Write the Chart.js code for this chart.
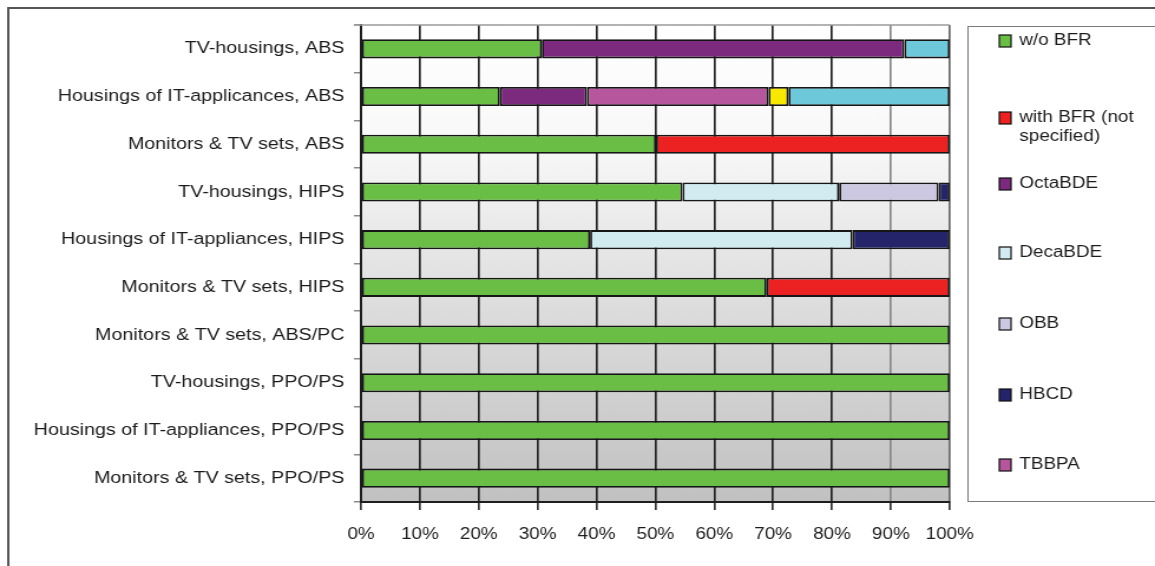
<!DOCTYPE html>
<html>
<head>
<meta charset="utf-8">
<script src="https://cdn.jsdelivr.net/npm/chart.js@4/dist/chart.umd.min.js"></script>
<style>
  html, body { margin: 0; padding: 0; background: #fff; overflow: hidden; }
  canvas { display: block; }
</style>
</head>
<body>
<!-- drawn at 979px wide and displayed at 1155px: the whole figure is horizontally widened -->
<canvas id="c" width="979" height="566" style="width:1155px;height:566px"></canvas>
<script>
// Share of each flame-retardant finding per plastic / product group (% of samples)
const categories = [
  'TV-housings, ABS',
  'Housings of IT-applicances, ABS',
  'Monitors & TV sets, ABS',
  'TV-housings, HIPS',
  'Housings of IT-appliances, HIPS',
  'Monitors & TV sets, HIPS',
  'Monitors & TV sets, ABS/PC',
  'TV-housings, PPO/PS',
  'Housings of IT-appliances, PPO/PS',
  'Monitors & TV sets, PPO/PS'
];
const woBFR    = [30.7, 23.6, 50.1, 54.6, 38.9, 68.9, 100, 100, 100, 100];
const withBFR  = [null, null, 49.9, null, null, 31.1, null, null, null, null];
const octaBDE  = [61.6, 14.8, null, null, null, null, null, null, null, null];
const decaBDE  = [null, null, null, 26.6, 44.6, null, null, null, null, null];
const obb      = [null, null, null, 16.9, null, null, null, null, null, null];
const hbcd     = [null, null, null, 1.9, 16.5, null, null, null, null, null];
const tbbpa    = [null, 30.8, null, null, null, null, null, null, null, null];
const series8  = [null, 3.4, null, null, null, null, null, null, null, null];
const series9  = [7.7, 27.4, null, null, null, null, null, null, null, null];
const xTicks   = [0, 10, 20, 30, 40, 50, 60, 70, 80, 90, 100];

const FONT = 'Liberation Sans, Arial, sans-serif';
const TEXT = '#1c1c1c';

function ds(label, data, color, inLegend) {
  return {
    label, data,
    backgroundColor: color,
    borderColor: '#161616',
    borderWidth: 1.8,
    borderSkipped: false,
    inLegend
  };
}

const datasets = [
  ds('w/o BFR', woBFR, '#6abd45', true),
  ds('with BFR (not specified)', withBFR, '#ec2222', true),
  ds('OctaBDE', octaBDE, '#7c2a7d', true),
  ds('DecaBDE', decaBDE, '#d1ebf0', true),
  ds('OBB', obb, '#cdc8e2', true),
  ds('HBCD', hbcd, '#24246b', true),
  ds('TBBPA', tbbpa, '#b6569d', true),
  ds('Series 8', series8, '#f6e800', false),
  ds('Series 9', series9, '#6dc8d9', false)
];

// plot background: white at the top fading to grey at the bottom
const plotBackground = {
  id: 'plotBackground',
  beforeDraw(chart) {
    const { ctx, chartArea: a } = chart;
    const g = ctx.createLinearGradient(0, a.top, 0, a.bottom);
    g.addColorStop(0, '#ffffff');
    g.addColorStop(0.25, '#f8f8f8');
    g.addColorStop(0.6, '#dcdcdc');
    g.addColorStop(1, '#c1c1c1');
    ctx.save();
    ctx.fillStyle = g;
    ctx.fillRect(a.left, a.top, a.right - a.left, a.bottom - a.top);
    ctx.restore();
  },
  afterDraw(chart) {
    const { ctx, chartArea: a, width, height } = chart;
    ctx.save();
    // top edge of the plot
    ctx.strokeStyle = '#9a9a9a';
    ctx.lineWidth = 1.5;
    ctx.beginPath();
    ctx.moveTo(a.left - 6, a.top);
    ctx.lineTo(a.right, a.top);
    ctx.stroke();
    // outer frame (top and left)
    ctx.strokeStyle = '#555';
    ctx.lineWidth = 2;
    ctx.beginPath();
    ctx.moveTo(width, 8);
    ctx.lineTo(7, 8);
    ctx.lineTo(7, height);
    ctx.stroke();
    ctx.restore();
  }
};

// boxed legend on the right
const boxLegend = {
  id: 'boxLegend',
  afterDraw(chart) {
    const { ctx } = chart;
    const boxLeft = 820, boxTop = 26, boxBottom = 501;
    const rowY = [41, 118, 184, 253, 324, 395, 465];
    const squareX = 847, textX = 864, maxW = 110, lineGap = 19;
    ctx.save();
    ctx.strokeStyle = '#7a7a7a';
    ctx.lineWidth = 1;
    ctx.strokeRect(boxLeft + 0.5, boxTop + 0.5, 400, boxBottom - boxTop);
    ctx.font = '16px ' + FONT;
    ctx.textBaseline = 'middle';
    const items = chart.data.datasets.filter(d => d.inLegend);
    items.forEach((d, i) => {
      const y = rowY[i];
      ctx.fillStyle = d.backgroundColor;
      ctx.fillRect(squareX, y - 6, 10, 12);
      ctx.strokeStyle = '#111';
      ctx.lineWidth = 1.2;
      ctx.strokeRect(squareX, y - 6, 10, 12);
      // word wrap inside the box
      const words = d.label.split(' ');
      const lines = [];
      let cur = '';
      words.forEach(w => {
        const t = cur ? cur + ' ' + w : w;
        if (ctx.measureText(t).width > maxW && cur) { lines.push(cur); cur = w; }
        else cur = t;
      });
      lines.push(cur);
      ctx.fillStyle = TEXT;
      lines.forEach((l, k) => ctx.fillText(l, textX, y + k * lineGap));
    });
    ctx.restore();
  }
};

new Chart(document.getElementById('c'), {
  type: 'bar',
  data: { labels: categories, datasets },
  plugins: [plotBackground, boxLegend],
  options: {
    responsive: false,
    animation: false,
    devicePixelRatio: 1,
    indexAxis: 'y',
    layout: { padding: { left: 0, right: 174, top: 25, bottom: 0 } },
    datasets: { bar: { categoryPercentage: 1, barPercentage: 0.40 } },
    plugins: { legend: { display: false }, tooltip: { enabled: false } },
    scales: {
      x: {
        stacked: true,
        min: 0,
        max: 100,
        afterBuildTicks: s => { s.ticks = xTicks.map(v => ({ value: v })); },
        ticks: {
          callback: v => v + '%',
          font: { family: FONT, size: 16 },
          color: TEXT,
          padding: 15,
          maxRotation: 0
        },
        grid: {
          color: c => (c.tick && c.tick.value === 90) ? '#8a8a8a' : (c.tick && c.tick.value === 100) ? '#666' : '#242424',
          lineWidth: 1.7,
          tickLength: 8,
          tickColor: '#333'
        },
        border: { color: '#1e1e1e', width: 2 },
        afterFit: s => { s.height = 64; }
      },
      y: {
        stacked: true,
        ticks: {
          font: { family: FONT, size: 16.7 },
          color: TEXT,
          padding: 8
        },
        grid: {
          offset: true,
          drawOnChartArea: false,
          tickLength: 6,
          color: '#8a8a8a',
          lineWidth: 1.5
        },
        border: { color: '#1e1e1e', width: 2 },
        afterFit: s => { s.width = 306; }
      }
    }
  }
});
</script>
</body>
</html>
